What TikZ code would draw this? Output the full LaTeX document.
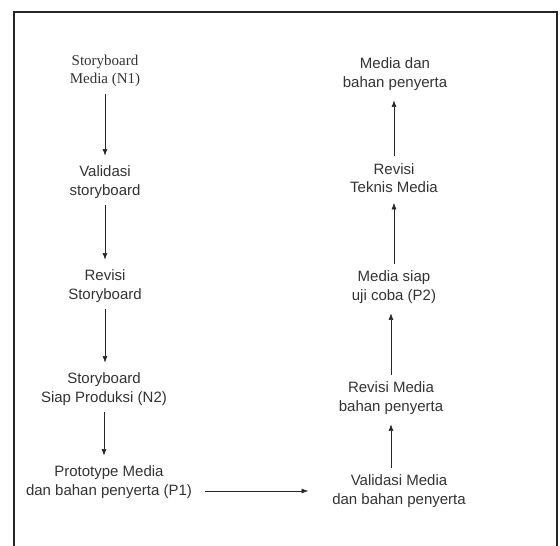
\documentclass[tikz,border=0pt]{standalone}
\usepackage{fontspec}
\setmainfont{Liberation Sans}
\newfontfamily\timesfont{Liberation Serif}
\usetikzlibrary{arrows.meta}

\tikzset{
    step label/.style={align=center, inner sep=0pt, text=black!80,
        font=\fontsize{15}{18.5}\selectfont},
    flow/.style={-{Latex[length=6.5pt,width=5pt]}, line width=0.6pt, black!85,
        shorten <=7pt, shorten >=10pt}
}

\begin{document}
\begin{tikzpicture}[x=1pt, y=-1pt]
    \useasboundingbox (0,0) rectangle (560,546);

    % Outer frame (bottom edge is cut off)
    \draw[line width=1.6pt, black!85] (14,546) -- (14,12) -- (557,12) -- (557,546);

    % Left column: storyboard stage
    \node[step label, font=\timesfont\fontsize{15}{18.5}\selectfont] (n1) at (105,71) {Storyboard\\Media (N1)};
    \node[step label] (valsb) at (105,182) {Validasi\\storyboard};
    \node[step label] (revsb) at (105,286) {Revisi\\Storyboard};
    \node[step label] (n2) at (104,389) {Storyboard\\Siap Produksi (N2)};
    \node[step label] (p1) at (109,482) {Prototype Media\\dan bahan penyerta (P1)};

    % Right column: media stage
    \node[step label] (valmd) at (399,491) {Validasi Media\\dan bahan penyerta};
    \node[step label] (revmd) at (391,398) {Revisi Media\\bahan penyerta};
    \node[step label] (p2) at (394,287) {Media siap\\uji coba (P2)};
    \node[step label] (revtk) at (394,178) {Revisi\\Teknis Media};
    \node[step label] (final) at (395,74) {Media dan\\bahan penyerta};

    % Arrows down the left column
    \draw[flow] (n1.south) -- (n1.south |- valsb.north);
    \draw[flow] (valsb.south) -- (valsb.south |- revsb.north);
    \draw[flow] (revsb.south) -- (revsb.south |- n2.north);
    \draw[flow] (n2.south) -- (n2.south |- p1.north);

    % Across to the right column
    \draw[flow, shorten <=13pt, shorten >=24pt] (p1.east |- valmd) -- (valmd);

    % Arrows up the right column
    \draw[flow] (revmd.south |- valmd.north) -- (revmd.south);
    \draw[flow] (revmd.north) -- (revmd.north |- p2.south);
    \draw[flow] (p2.north) -- (p2.north |- revtk.south);
    \draw[flow] (revtk.north) -- (revtk.north |- final.south);
\end{tikzpicture}
\end{document}
